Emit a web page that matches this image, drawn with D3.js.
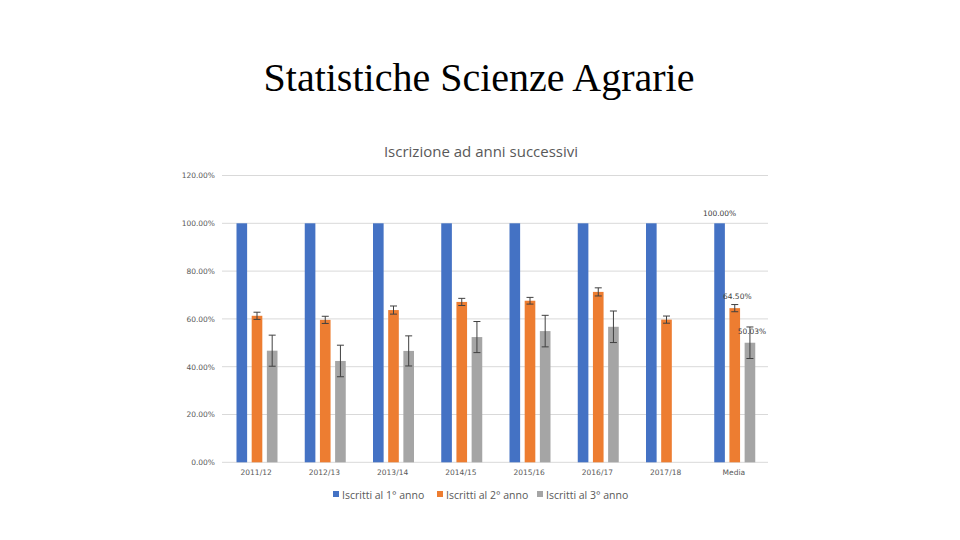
<!DOCTYPE html>
<html><head><meta charset="utf-8">
<script src="https://cdn.jsdelivr.net/npm/d3@7"></script>
<style>body{margin:0;background:#fff;}svg{display:block;}</style>
</head><body>
<svg id="chart" width="960" height="540"></svg>
<script>
const categories = ["2011/12","2012/13","2013/14","2014/15","2015/16","2016/17","2017/18","Media"];
const seriesNames = ["Iscritti al 1° anno","Iscritti al 2° anno","Iscritti al 3° anno"];
const colors = ["#4472c4","#ed7d31","#a5a5a5"];
const first  = [100,100,100,100,100,100,100,100];
const second = [61.3,59.6,63.7,67.1,67.6,71.3,59.7,64.50];
const third  = [46.7,42.4,46.6,52.4,54.9,56.7,null,50.03];
const errSecond = [1.5,1.5,1.7,1.5,1.4,1.7,1.5,1.5];
const errThird  = [6.5,6.6,6.3,6.5,6.6,6.6,null,6.6];
const yTicks = [0,20,40,60,80,100,120];
const series = [first, second, third];
const errors = [null, errSecond, errThird];

const svg = d3.select("#chart");
const x = d3.scaleBand().domain(categories).range([222,768]);
const y = d3.scaleLinear().domain([0,120]).range([462.3,175.5]);
const sub = d3.scaleBand().domain([0,1,2]).range([14.5, 55.5]).paddingInner(0.3);

svg.append("text").attr("x",479).attr("y",91).attr("text-anchor","middle")
  .attr("font-family","'Liberation Serif','Times New Roman',serif").attr("font-size",40).attr("fill","#000")
  .text("Statistiche Scienze Agrarie");
svg.append("text").attr("x",481).attr("y",157).attr("text-anchor","middle")
  .attr("font-family","'Open Sans',sans-serif").attr("font-size",15).attr("fill","#595959")
  .text("Iscrizione ad anni successivi");

// gridlines
svg.append("g").selectAll("line").data(yTicks).join("line")
  .attr("x1",222).attr("x2",768).attr("y1",d=>y(d)).attr("y2",d=>y(d))
  .attr("stroke","#d9d9d9").attr("stroke-width",1);

// y axis labels
const yAxis = d3.axisLeft(y).tickValues(yTicks).tickSize(0).tickPadding(7).tickFormat(d=>d.toFixed(2)+"%");
svg.append("g").attr("transform","translate(222,0)").call(yAxis)
  .call(g=>g.select(".domain").remove())
  .call(g=>g.selectAll("text").attr("font-family","'DejaVu Sans',sans-serif").attr("font-size",7.5).attr("fill","#595959"));

// x axis labels
const xAxis = d3.axisBottom(x).tickSize(0).tickPadding(7);
svg.append("g").attr("transform","translate(0,462.3)").call(xAxis)
  .call(g=>g.select(".domain").remove())
  .call(g=>g.selectAll("text").attr("font-family","'DejaVu Sans',sans-serif").attr("font-size",7.5).attr("fill","#595959"));

// bars
series.forEach((vals,si)=>{
  svg.append("g").selectAll("rect").data(categories.map((c,i)=>({c,v:vals[i]})).filter(d=>d.v!=null)).join("rect")
    .attr("x",d=>x(d.c)+sub(si)).attr("width",sub.bandwidth())
    .attr("y",d=>y(d.v)).attr("height",d=>y(0)-y(d.v)).attr("fill",colors[si]);
});

// error bars
errors.forEach((errs,si)=>{
  if(!errs) return;
  const g = svg.append("g").attr("stroke","#404040").attr("stroke-width",1);
  categories.forEach((c,i)=>{
    const v = series[si][i], e = errs[i];
    if(v==null||e==null) return;
    const cx = x(c)+sub(si)+sub.bandwidth()/2;
    g.append("line").attr("x1",cx).attr("x2",cx).attr("y1",y(v+e)).attr("y2",y(v-e));
    g.append("line").attr("x1",cx-3.5).attr("x2",cx+3.5).attr("y1",y(v+e)).attr("y2",y(v+e));
    g.append("line").attr("x1",cx-3.5).attr("x2",cx+3.5).attr("y1",y(v-e)).attr("y2",y(v-e));
  });
});

// data labels for Media
const mi = categories.length-1;
const labelOffsets = [7, 9, 8.4];
const labelShift = [0, 2.5, 2];
series.forEach((vals,si)=>{
  const v = vals[mi];
  const cx = x(categories[mi])+sub(si)+sub.bandwidth()/2 + labelShift[si];
  svg.append("text").attr("x",cx).attr("y",y(v)-labelOffsets[si]).attr("text-anchor","middle")
    .attr("font-family","'DejaVu Sans',sans-serif").attr("font-size",7.5).attr("fill","#404040")
    .text(v.toFixed(2)+"%");
});

// legend
const legX = [333, 437, 537];
series.forEach((v,si)=>{
  svg.append("rect").attr("x",legX[si]).attr("y",491).attr("width",6).attr("height",6).attr("fill",colors[si]);
  svg.append("text").attr("x",legX[si]+9).attr("y",498.5).attr("font-family","'Open Sans',sans-serif")
    .attr("font-size",10.5).attr("fill","#595959").text(seriesNames[si]);
});
</script>
</body></html>
